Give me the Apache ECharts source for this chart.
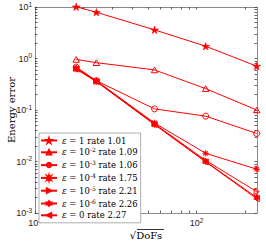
<!DOCTYPE html>
<html><head><meta charset="utf-8">
<script src="https://cdn.jsdelivr.net/npm/echarts@6/dist/echarts.min.js"></script>
<style>html,body{margin:0;padding:0;background:#fff}#c{width:266px;height:242px}</style>
</head><body><div id="c"></div>
<script>
// ---- data ----
const sqrtDofs = [18, 24, 55, 114, 236];
const epsLabels = ['1', '10^-2', '10^-3', '10^-4', '10^-5', '10^-6', '0'];
const rates = ['1.01', '1.09', '1.06', '1.75', '2.21', '2.26', '2.27'];
const errEps1 = [10.1, 7.9, 3.6, 1.73, 0.71];
const errEps1e2 = [0.96, 0.83, 0.60, 0.26, 0.10];
const errEps1e3 = [0.68, 0.37, 0.105, 0.076, 0.035];
const errEps1e4 = [0.65, 0.37, 0.056, 0.0144, 0.0071];
const errEps1e5 = [0.64, 0.36, 0.054, 0.0105, 0.0026];
const errEps1e6 = [0.63, 0.36, 0.053, 0.0100, 0.0020];
const errEps0 = [0.62, 0.355, 0.052, 0.0098, 0.0019];
const xMajorTicks = [10, 100];
const xMinorTicks = [20, 30, 40, 50, 60, 70, 80, 90, 200];
const yMajorTicks = [0.001, 0.01, 0.1, 1, 10];
const xTitle = '√DoFs';
const yTitle = 'Energy error';

const allSeries = [errEps1, errEps1e2, errEps1e3, errEps1e4, errEps1e5, errEps1e6, errEps0];

const RED = '#ff0000';
const pentagram = 'path://M100 0 L122.45 69.1 L195.1 69.1 L136.3 111.8 L158.8 180.9 L100 138.2 L41.2 180.9 L63.7 111.8 L4.9 69.1 L77.55 69.1 Z';
const hexagram = 'path://M100 0 L128.87 50 L186.6 50 L157.7 100 L186.6 150 L128.87 150 L100 200 L71.13 150 L13.4 150 L42.3 100 L13.4 50 L71.13 50 Z';
const asterisk = 'path://M100 0 L115.3 63 L170.7 29.3 L137 84.7 L200 100 L137 115.3 L170.7 170.7 L115.3 137 L100 200 L84.7 137 L29.3 170.7 L63 115.3 L0 100 L63 84.7 L29.3 29.3 L84.7 63 Z';
const triUp = 'path://M100 0 L200 173 L0 173 Z';
const triRight = 'path://M0 0 L173 100 L0 200 Z';
const triLeft = 'path://M173 0 L0 100 L173 200 Z';
const markers = [
  {symbol: pentagram, size: 8, filled: true},
  {symbol: triUp, size: 6.5, filled: false},
  {symbol: 'circle', size: 6, filled: false},
  {symbol: asterisk, size: 6.5, filled: true},
  {symbol: triRight, size: 6, filled: false},
  {symbol: hexagram, size: 7, filled: true},
  {symbol: triLeft, size: 6, filled: false}
];

function supStr(s) { return s.replace('^', '{s|') + (s.indexOf('^') >= 0 ? '}' : ''); }
const names = epsLabels.map((e, i) => 'ε = ' + e + ' rate ' + rates[i]);
const richNames = {};
names.forEach((n, i) => { richNames[n] = '{i|ε} = ' + supStr(epsLabels[i]) + ' rate ' + rates[i]; });

const expFmt = v => {
  const l = Math.log10(v), r = Math.round(l);
  if (Math.abs(l - r) > 1e-6) return '';
  return '{b|10}{e|' + r + '}';
};
const labelRich = {
  b: {fontFamily: 'Liberation Sans', fontSize: 9, color: '#262626', lineHeight: 12},
  e: {fontFamily: 'Liberation Sans', fontSize: 6.5, color: '#262626', lineHeight: 12, padding: [0, 0, 6, 0]}
};
const axisColor = '#8a8a8a';
const tickStyle = {color: '#3a3a3a', width: 0.8};

function xAx(pos, showLabel) {
  return {
    type: 'log', logBase: 10, min: 10, max: 237, position: pos, gridIndex: 0,
    axisLine: {show: true, lineStyle: {color: axisColor, width: 1}},
    axisTick: {show: true, inside: true, length: 2.5, lineStyle: tickStyle, customValues: xMajorTicks.concat(xMinorTicks)},
    minorTick: {show: false},
    axisLabel: {show: showLabel, formatter: expFmt, rich: labelRich, margin: 4, customValues: xMajorTicks, hideOverlap: false},
    splitLine: {show: false},
    name: showLabel ? xTitle : '', nameLocation: 'middle', nameGap: 17, nameMoveOverlap: false,
    nameTextStyle: {fontFamily: 'DejaVu Serif', fontSize: 10, color: '#000'}
  };
}
const yMinor = [];
for (let d = -3; d < 1; d++) for (let k = 2; k <= 9; k++) yMinor.push(+(k * Math.pow(10, d)).toPrecision(3));
function yAx(pos, showLabel) {
  return {
    type: 'log', logBase: 10, min: 0.001, max: 10, position: pos, gridIndex: 0,
    axisLine: {show: true, lineStyle: {color: axisColor, width: 1}},
    axisTick: {show: true, inside: true, length: 2.5, lineStyle: tickStyle, customValues: yMajorTicks.concat(yMinor)},
    minorTick: {show: false},
    axisLabel: {show: showLabel, formatter: expFmt, rich: labelRich, margin: 3, customValues: yMajorTicks, hideOverlap: false},
    splitLine: {show: false}
  };
}

const series = allSeries.map((vals, i) => ({
  name: names[i], type: 'line', xAxisIndex: 0, yAxisIndex: 0,
  data: sqrtDofs.map((x, j) => [x, vals[j]]),
  symbol: markers[i].symbol, symbolSize: markers[i].size, symbolKeepAspect: true,
  showAllSymbol: true, clip: false, animation: false,
  lineStyle: {color: RED, width: 1},
  itemStyle: markers[i].filled ? {color: RED, borderColor: RED, borderWidth: 0.5}
                               : {color: 'rgba(255,255,255,0)', borderColor: RED, borderWidth: 1},
  emphasis: {disabled: true}
}));

const chart = echarts.init(document.getElementById('c'), null, {renderer: 'svg'});
chart.setOption({
  animation: false,
  backgroundColor: '#fff',
  grid: {left: 35, right: 9, top: 7, bottom: 29, containLabel: false, outerBoundsMode: 'none'},
  xAxis: [xAx('bottom', true), xAx('top', false)],
  yAxis: [yAx('left', true), yAx('right', false)],
  legend: {
    orient: 'vertical', left: 39, top: 133, padding: [3, 3, 3, 1],
    itemWidth: 16, itemHeight: 5.5, itemGap: 1.8,
    borderColor: '#9a9a9a', borderWidth: 0.8, backgroundColor: '#fff',
    data: names,
    formatter: n => richNames[n],
    textStyle: {
      fontFamily: 'DejaVu Serif', fontSize: 8.5, color: '#000', lineHeight: 9,
      rich: {
        i: {fontFamily: 'DejaVu Serif', fontStyle: 'italic', fontSize: 8.5, lineHeight: 9},
        s: {fontFamily: 'DejaVu Serif', fontSize: 6, lineHeight: 9, padding: [0, 0, 5, 0]}
      }
    },
    selectedMode: false
  },
  graphic: [
    {type: 'line', shape: {x1: 137, y1: 229.5, x2: 164, y2: 229.5}, style: {stroke: '#000', lineWidth: 0.8}},
    {type: 'text', x: 11, y: 110, rotation: Math.PI / 2,
     style: {text: yTitle, fontFamily: 'DejaVu Serif', fontSize: 10, fill: '#000', align: 'center', verticalAlign: 'middle'}}
  ],
  series: series
});
</script></body></html>
